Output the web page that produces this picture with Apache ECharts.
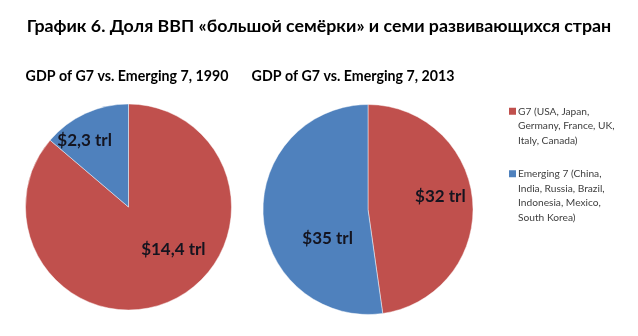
<!DOCTYPE html>
<html>
<head>
<meta charset="utf-8">
<script src="https://cdn.jsdelivr.net/npm/echarts@6/dist/echarts.min.js"></script>
<style>
html,body{margin:0;padding:0;background:#fff;}
#chart{width:638px;height:336px;}
</style>
</head>
<body>
<div id="chart"></div>
<script>
// ---- data ----
var mainTitle = 'График 6. Доля ВВП «большой семёрки» и семи развивающихся стран';
var pieTitles = ['GDP of G7 vs. Emerging 7, 1990', 'GDP of G7 vs. Emerging 7, 2013'];
var categories = ['G7 (USA, Japan, Germany, France, UK, Italy, Canada)',
                  'Emerging 7 (China, India, Russia, Brazil, Indonesia, Mexico, South Korea)'];
var gdp1990 = [14.4, 2.3];
var gdp2013 = [32, 35];

// ---- style ----
var colors = ['#C0504D', '#4F81BD'];
var FONT = 'Lato, "Open Sans", sans-serif';
// label nudges (px) relative to the default inside position: [series][item]
var labelNudge = [[[22, -7], [-21, -17]], [[17, -9], [15, 25]]];

function wrap(text, maxChars) {
  var words = text.split(' '), lines = [], cur = '';
  words.forEach(function (w) {
    var t = cur ? cur + ' ' + w : w;
    if (t.length > maxChars && cur) { lines.push(cur); cur = w; } else { cur = t; }
  });
  if (cur) lines.push(cur);
  return lines;
}

function fmtVal(v) { return '$' + String(v).replace('.', ',') + ' trl'; }

function pieSeries(values, idx, center, radius) {
  return {
    type: 'pie',
    center: center,
    radius: radius,
    startAngle: 90,
    clockwise: true,
    silent: true,
    animation: false,
    itemStyle: { borderColor: 'rgba(255,255,255,0.45)', borderWidth: 1 },
    label: {
      show: true,
      position: 'inside',
      formatter: function (p) { return fmtVal(p.value); },
      fontFamily: FONT,
      fontWeight: 'bold',
      fontSize: 17,
      color: '#14141f'
    },
    labelLine: { show: false },
    labelLayout: function (p) {
      var n = labelNudge[idx][p.dataIndex];
      return { dx: n[0], dy: n[1] };
    },
    data: categories.map(function (c, i) { return { name: c, value: values[i] }; })
  };
}

var legendRich = {
  t: { fontFamily: FONT, fontSize: 10.2, color: '#404040', lineHeight: 14.5 },
  ind: { width: 9, height: 7 },
  gap: { width: 2, height: 7 }
};
colors.forEach(function (c, i) {
  legendRich['sq' + i] = { width: 7, height: 7, backgroundColor: c, lineHeight: 14.5 };
});

var option = {
  color: colors,
  backgroundColor: '#fff',
  animation: false,
  title: [
    { text: mainTitle, left: 314, top: 12, textAlign: 'center',
      textStyle: { fontFamily: FONT, fontWeight: 'bold', fontSize: 17.8, color: '#000' } },
    { text: pieTitles[0], left: 122, top: 64, textAlign: 'center',
      textStyle: { fontFamily: FONT, fontWeight: 'bold', fontSize: 14.2, color: '#000' } },
    { text: pieTitles[1], left: 348, top: 64, textAlign: 'center',
      textStyle: { fontFamily: FONT, fontWeight: 'bold', fontSize: 14.2, color: '#000' } }
  ],
  legend: {
    orient: 'vertical',
    left: 499,
    top: 99,
    icon: 'none',
    itemWidth: 0,
    itemHeight: 7,
    itemGap: 19,
    selectedMode: false,
    data: categories,
    formatter: function (name) {
      var i = categories.indexOf(name);
      var lines = wrap(name, 22);
      return lines.map(function (l, k) {
        return (k === 0 ? '{sq' + i + '|}{gap|}' : '{ind|}') + '{t|' + l + '}';
      }).join('\n');
    },
    textStyle: { fontFamily: FONT, fontSize: 10.2, color: '#404040', lineHeight: 14.5, rich: legendRich }
  },
  series: [
    pieSeries(gdp1990, 0, [128.5, 207], 103),
    pieSeries(gdp2013, 1, [368, 209.5], 105)
  ]
};

var chart = echarts.init(document.getElementById('chart'), null, { renderer: 'canvas' });
chart.setOption(option);
</script>
</body>
</html>
